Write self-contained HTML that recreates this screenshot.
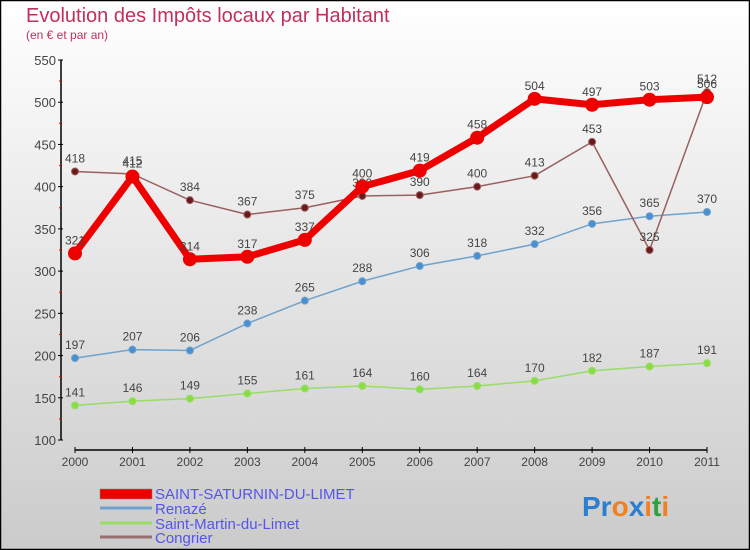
<!DOCTYPE html>
<html><head><meta charset="utf-8"><style>
body{margin:0}
#c{width:750px;height:550px;position:relative;overflow:hidden;font-family:"Liberation Sans",sans-serif}
</style></head><body>
<div id="c">
<svg id="s" width="750" height="550" xmlns="http://www.w3.org/2000/svg">
<defs><linearGradient id="bg" x1="0" y1="0" x2="0" y2="1"><stop offset="0" stop-color="#ffffff"/><stop offset="1" stop-color="#cbcbcb"/></linearGradient></defs>
<rect x="0.5" y="0.5" width="749" height="549" fill="url(#bg)" stroke="#000" stroke-width="1.5"/>
<text x="26" y="22" font-size="20" fill="#c0305a">Evolution des Impôts locaux par Habitant</text>
<text x="26" y="39" font-size="12" fill="#c0305a">(en € et par an)</text>
<g id="axes"></g><g id="series"></g>
<g>
<rect x="100" y="489" width="52" height="10" fill="#ee0000" stroke="#888" stroke-width="0.5"/>
<text x="155" y="499" font-size="15" fill="#5555ee">SAINT-SATURNIN-DU-LIMET</text>
<line x1="100" y1="508" x2="152" y2="508" stroke="#6fa2cc" stroke-width="3"/>
<text x="155" y="514" font-size="15" fill="#5555ee">Renazé</text>
<line x1="100" y1="523" x2="152" y2="523" stroke="#99dd66" stroke-width="3"/>
<text x="155" y="529" font-size="15" fill="#5555ee">Saint-Martin-du-Limet</text>
<line x1="100" y1="537" x2="152" y2="537" stroke="#997070" stroke-width="3"/>
<text x="155" y="543" font-size="15" fill="#5555ee">Congrier</text>
</g>
<text x="582" y="516" font-size="28" font-weight="bold"><tspan fill="#2a7fd0">Pr</tspan><tspan fill="#f08020">o</tspan><tspan fill="#2a7fd0">x</tspan><tspan fill="#f08020">i</tspan><tspan fill="#30a040">t</tspan><tspan fill="#f08020">i</tspan></text>
</svg></div>
<script>
const years=["2000","2001","2002","2003","2004","2005","2006","2007","2008","2009","2010","2011"];
const yTicks=[100,150,200,250,300,350,400,450,500,550];
const ssl=[321,412,314,317,337,400,419,458,504,497,503,506];
const renaze=[197,207,206,238,265,288,306,318,332,356,365,370];
const sml=[141,146,149,155,161,164,160,164,170,182,187,191];
const congrier=[418,415,384,367,375,389,390,400,413,453,325,512];
const NS="http://www.w3.org/2000/svg";
const X=i=>75+i*(707-75)/11;
const Y=v=>440-(v-100)*(380/450);
function mk(t,a,p){const e=document.createElementNS(NS,t);for(const k in a)e.setAttribute(k,a[k]);p.appendChild(e);return e;}
const ax=document.getElementById('axes');
let yl=mk('line',{x1:61,y1:60,x2:61,y2:440,stroke:'#000','stroke-width':1.5},ax);


yTicks.forEach((v,i)=>{
 mk('line',{x1:58,y1:Y(v),x2:63,y2:Y(v),stroke:'#000'},ax);
 if(i<yTicks.length-1)mk('line',{x1:59,y1:Y(v+25),x2:62,y2:Y(v+25),stroke:'#d00'},ax);
 let t=mk('text',{x:56,y:Y(v)+5,'font-size':13,fill:'#444','text-anchor':'end'},ax);t.textContent=v;
 
 
});
let xl=mk('line',{x1:75,y1:450,x2:707,y2:450,stroke:'#000','stroke-width':1.5},ax);


years.forEach((y,i)=>{
 mk('line',{x1:X(i),y1:447,x2:X(i),y2:453,stroke:'#000'},ax);
 let t=mk('text',{x:X(i),y:466,'font-size':12,fill:'#444','text-anchor':'middle'},ax);t.textContent=y;
 
 
});
const sg=document.getElementById('series');
function series(d,name,col,w,r,dot){
 const g=mk('g',{},sg);
 
 
 mk('polyline',{points:d.map((v,i)=>X(i)+','+Y(v)).join(' '),fill:'none',stroke:col,'stroke-width':w,'stroke-linejoin':'round'},g);
 d.forEach((v,i)=>{
  const c=mk('circle',{cx:X(i),cy:Y(v),r:r,fill:dot,stroke:col,'stroke-width':r>5?0:1},g);
  
  
  const t=mk('text',{x:X(i),y:Y(v)-9,'font-size':12,fill:'#444','text-anchor':'middle'},g);t.textContent=v;
  
  
 });
}
series(sml,'saint-martin-line','#99dd66',1.5,3.5,'#88dd44');
series(renaze,'renaze-line','#6fa2cc',1.5,3.5,'#4a90d0');
series(congrier,'congrier-line','#996060',1.5,3.5,'#6a1a1a');
series(ssl,'saint-saturnin-line','#ee0000',7,7,'#ee0000');
</script>
</body></html>
